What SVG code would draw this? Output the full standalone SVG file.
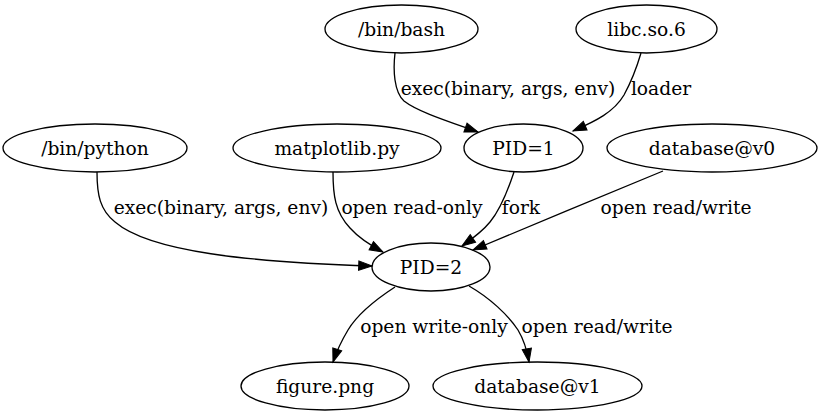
<svg xmlns="http://www.w3.org/2000/svg" width="822" height="416" viewBox="0 0 822 416">
<style>
  .node ellipse { fill: none; stroke: #000; stroke-width: 1.33; }
  text { font-family: "DejaVu Serif", "Liberation Serif", serif; font-size: 18.67px; fill: #000; }
  .node text { text-anchor: middle; }
  .edge path { fill: none; stroke: #000; stroke-width: 1.33; marker-end: url(#arrow); }
  .lbl { text-anchor: middle; }
</style>
<defs>
  <marker id="arrow" markerUnits="userSpaceOnUse" markerWidth="14" markerHeight="10" refX="13.3" refY="4.67" orient="auto" viewBox="0 0 14 9.34" overflow="visible">
    <path d="M0,0 L13.3,4.67 L0,9.34 Z" fill="#000" stroke="#000" stroke-width="1"/>
  </marker>
</defs>
<rect width="822" height="416" fill="#fff"/>

<g id="connectors">
  <g class="edge" id="e_bash_pid1">
    <path d="M395,53 C393,70 394,92 404,101 C418,112 450,122 478,132"/>
    <text class="lbl" x="508" y="95">exec(binary, args, env)</text>
  </g>
  <g class="edge" id="e_libc_pid1">
    <path d="M641,53 C636,70 630,84 624,95 C614,112 596,121 573,131"/>
    <text class="lbl" x="661" y="95">loader</text>
  </g>
  <g class="edge" id="e_python_pid2">
    <path d="M97,172 C97,195 100,210 115,222 C150,252 250,262 372,266"/>
    <text class="lbl" x="221" y="214">exec(binary, args, env)</text>
  </g>
  <g class="edge" id="e_matplotlib_pid2">
    <path d="M333,172 C333,195 335,212 350,228 C358,237 368,244 383,252"/>
    <text class="lbl" x="412" y="214">open read-only</text>
  </g>
  <g class="edge" id="e_pid1_pid2">
    <path d="M514,172 C508,190 500,210 490,222 C482,232 472,239 462,246"/>
    <text class="lbl" x="521" y="214">fork</text>
  </g>
  <g class="edge" id="e_v0_pid2">
    <path d="M663,171 C620,189 520,230 473,250"/>
    <text class="lbl" x="676" y="214">open read/write</text>
  </g>
  <g class="edge" id="e_pid2_figure">
    <path d="M395,287 C375,300 357,315 348,330 C342,340 337,350 333,362"/>
    <text class="lbl" x="434" y="333">open write-only</text>
  </g>
  <g class="edge" id="e_pid2_v1">
    <path d="M469,286 C490,298 508,315 518,330 C524,340 527,350 529,362"/>
    <text class="lbl" x="597" y="333">open read/write</text>
  </g>
</g>

<g class="node" id="n_bash">
  <ellipse cx="401.5" cy="29" rx="76.5" ry="24"/>
  <text x="401.5" y="35.5">/bin/bash</text>
</g>
<g class="node" id="n_libc">
  <ellipse cx="646.5" cy="29" rx="70.5" ry="24"/>
  <text x="646.5" y="35.5">libc.so.6</text>
</g>
<g class="node" id="n_python">
  <ellipse cx="95" cy="148" rx="92" ry="24"/>
  <text x="95" y="154.5">/bin/python</text>
</g>
<g class="node" id="n_matplotlib">
  <ellipse cx="337" cy="148" rx="104" ry="24"/>
  <text x="337" y="154.5">matplotlib.py</text>
</g>
<g class="node" id="n_pid1">
  <ellipse cx="523.5" cy="148" rx="59.5" ry="24"/>
  <text x="523.5" y="154.5">PID=1</text>
</g>
<g class="node" id="n_v0">
  <ellipse cx="712" cy="148" rx="105" ry="24"/>
  <text x="712" y="154.5">database@v0</text>
</g>
<g class="node" id="n_pid2">
  <ellipse cx="431" cy="267" rx="59" ry="24"/>
  <text x="431" y="273.5">PID=2</text>
</g>
<g class="node" id="n_figure">
  <ellipse cx="325" cy="386" rx="84" ry="24"/>
  <text x="325" y="392.5">figure.png</text>
</g>
<g class="node" id="n_v1">
  <ellipse cx="537.5" cy="386" rx="104.5" ry="24"/>
  <text x="537.5" y="392.5">database@v1</text>
</g>
</svg>
